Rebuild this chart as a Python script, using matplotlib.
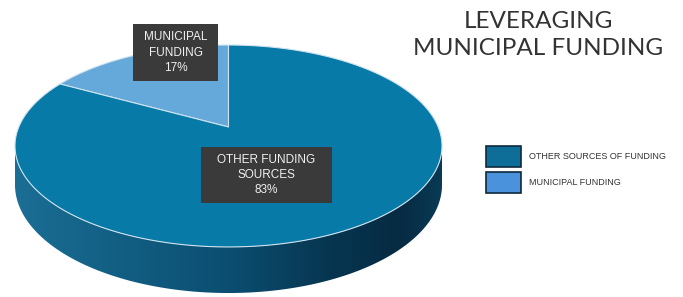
import numpy as np
import matplotlib
matplotlib.use("Agg")
import matplotlib.pyplot as plt
from matplotlib.patches import Polygon, Rectangle
from matplotlib.colors import LinearSegmentedColormap

# ---- data ----
categories = ["OTHER SOURCES OF FUNDING", "MUNICIPAL FUNDING"]
values = [83, 17]
slice_labels = ["OTHER FUNDING\nSOURCES", "MUNICIPAL\nFUNDING"]
title = "LEVERAGING\nMUNICIPAL FUNDING"

# ---- style ----
top_colors = ["#087aa7", "#64a9d9"]
legend_colors = ["#0e6e98", "#4a93dc"]
W, H = 683, 297
fig = plt.figure(figsize=(W / 100, H / 100), dpi=100)
ax = fig.add_axes([0, 0, 1, 1])
ax.set_xlim(0, W)
ax.set_ylim(H, 0)
ax.axis("off")

# pseudo-perspective projection of the unit disc
cx, vy = 228.5, 127.0
A, B, k = 209.7, 97.4, 0.188
depth = 37.4


def proj(theta, drop=0.0):
    X, Y = np.cos(theta), np.sin(theta)
    s = 1 + k * Y
    return cx + A * X / s, vy - B * Y / s + drop / s


# side wall
thL = np.pi + np.arcsin(k)
thR = 2 * np.pi - np.arcsin(k)
t = np.linspace(thL, thR, 300)
tx, ty = proj(t)
bx, by = proj(t[::-1], depth)
side = Polygon(np.column_stack([np.r_[tx, bx], np.r_[ty, by]]),
               closed=True, facecolor="none", edgecolor="none", zorder=1)
ax.add_patch(side)
cmap = LinearSegmentedColormap.from_list(
    "side",
    [(0.0, "#1b6e94"), (0.25, "#125e83"), (0.5, "#0b4e71"),
     (0.74, "#073550"), (0.9, "#062b42"), (1.0, "#0a3a55")])
grad = np.linspace(0, 1, 256)[None, :]
im = ax.imshow(grad, cmap=cmap, extent=[tx.min(), tx.max(), by.max() + 2, ty.min()],
               aspect="auto", zorder=1)
im.set_clip_path(side)
ax.set_xlim(0, W)
ax.set_ylim(H, 0)

# top slices (municipal starts at 12 o'clock going counter-clockwise)
total = sum(values)
start = np.pi / 2
order = [1, 0]
for i in order:
    span = 2 * np.pi * values[i] / total
    th = np.linspace(start, start + span, 400)
    px, py = proj(th)
    ox, oy = cx, vy
    poly = Polygon(np.column_stack([np.r_[ox, px], np.r_[oy, py]]), closed=True,
                   facecolor=top_colors[i], edgecolor="#cfe3ef", linewidth=0.8,
                   joinstyle="round", zorder=2)
    ax.add_patch(poly)
    start += span

# data labels
lab_font = "Liberation Sans"
boxes = {1: (133, 24, 85, 57), 0: (201, 147, 131, 56)}
for i in range(len(values)):
    x0, y0, w, h = boxes[i]
    ax.add_patch(Rectangle((x0, y0), w, h, facecolor="#3a3a3a", edgecolor="none", zorder=3))
    ax.text(x0 + w / 2, y0 + h / 2, f"{slice_labels[i]}\n{values[i]}%",
            ha="center", va="center", color="#f0f0f0", fontsize=8.5,
            family=lab_font, linespacing=1.35, zorder=4)

# title
ax.text(538, 35, title, ha="center", va="center", fontsize=17.5, color="#333333",
        family="Lato", linespacing=1.3)

# legend
leg_y = [146, 172]
for i, c in enumerate(categories):
    ax.add_patch(Rectangle((486, leg_y[i]), 35, 20.5, facecolor=legend_colors[i],
                           edgecolor="#0d2a3d", linewidth=1.2, zorder=3))
    ax.text(529, leg_y[i] + 10.5, c, ha="left", va="center", fontsize=6.5,
            family=lab_font, color="#333333")

fig.savefig("out.png", dpi=100, facecolor="white")
